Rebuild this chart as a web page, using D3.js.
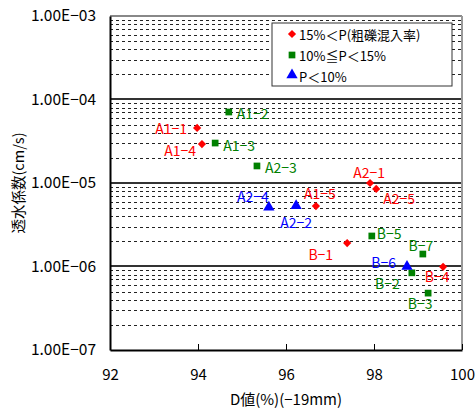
<!DOCTYPE html>
<html>
<head>
<meta charset="utf-8">
<script src="https://cdn.jsdelivr.net/npm/d3@7"></script>
<style>
  body { margin: 0; background: #fff; }
  text { font-family: "Noto Sans CJK JP", "Noto Sans", sans-serif; }
</style>
</head>
<body>
<div id="chart"></div>
<script>
// --- data ---
var seriesNames = ["15%＜P(粗礫混入率)", "10%≦P＜15%", "P＜10%"];
var seriesColors = ["#ff0000", "#008000", "#0000ff"];

var redNames = ["A1−1", "A1−4", "A1−5", "A2−1", "A2−5", "B−1", "B−4"];
var redD     = [93.98, 94.09, 96.68, 97.91, 98.05, 97.39, 99.57];
var redK     = [4.56e-5, 2.93e-5, 5.3e-6, 1.0e-5, 8.5e-6, 1.91e-6, 9.9e-7];

var greenNames = ["A1−2", "A1−3", "A2−3", "B−5", "B−7", "B−2", "B−3"];
var greenD     = [94.70, 94.39, 95.34, 97.95, 99.11, 98.86, 99.23];
var greenK     = [7.08e-5, 3.01e-5, 1.6e-5, 2.32e-6, 1.41e-6, 8.4e-7, 4.8e-7];

var blueNames = ["A2−4", "A2−2", "B−6"];
var blueD     = [95.61, 96.23, 98.75];
var blueK     = [5.0e-6, 5.2e-6, 9.7e-7];

var xTicks = [92, 94, 96, 98, 100];
var yTicks = [1e-3, 1e-4, 1e-5, 1e-6, 1e-7];

// label placement (offset from marker, anchor)
var labelPos = {
  "A1−1": [-10, 0, "end"],  "A1−4": [-6, 6, "end"],   "A1−5": [4, -13, "middle"],
  "A2−1": [-1, -11, "middle"], "A2−5": [7, 9, "start"], "B−1": [-14, 11, "end"],
  "B−4": [-6, 9, "middle"],
  "A1−2": [8, 1, "start"],  "A1−3": [8, 2, "start"],  "A2−3": [8, 1, "start"],
  "B−5": [5, -3, "start"],  "B−7": [-2, -9, "middle"], "B−2": [-12, 10, "end"],
  "B−3": [-8, 10, "middle"],
  "A2−4": [0, -12, "end"],  "A2−2": [0, 15, "middle"], "B−6": [-11, -6, "end"]
};

var w = 475, h = 412;
var margin = {left: 110, right: 13, top: 16, bottom: 62};

var svg = d3.select("#chart").append("svg")
  .attr("width", w)
  .attr("height", h);

var x = d3.scaleLinear().domain([92, 100]).range([margin.left, w - margin.right]);
var y = d3.scaleLog().domain([1e-7, 1e-3]).range([h - margin.bottom, margin.top]);

// minor grid (dashed)
var minor = [];
for (var e = -7; e < -3; e++) {
  for (var m = 2; m <= 9; m++) minor.push(m * Math.pow(10, e));
}
svg.append("g").selectAll("line")
  .data(minor).enter().append("line")
  .attr("x1", x(92)).attr("x2", x(100))
  .attr("y1", function(d){ return Math.round(y(d)) + 0.5; })
  .attr("y2", function(d){ return Math.round(y(d)) + 0.5; })
  .attr("stroke", "#222")
  .attr("stroke-width", 1)
  .attr("stroke-dasharray", "3,3");

// major grid
svg.append("g").selectAll("line")
  .data(yTicks.slice(1, 4)).enter().append("line")
  .attr("x1", x(92)).attr("x2", x(100))
  .attr("y1", function(d){ return Math.round(y(d)); })
  .attr("y2", function(d){ return Math.round(y(d)); })
  .attr("stroke", "#333")
  .attr("stroke-width", 2);

// frame: top / right gray
svg.append("line")
  .attr("x1", x(92)).attr("x2", x(100))
  .attr("y1", y(1e-3)).attr("y2", y(1e-3))
  .attr("stroke", "#888").attr("stroke-width", 2);
svg.append("line")
  .attr("x1", x(100)).attr("x2", x(100))
  .attr("y1", y(1e-3)).attr("y2", y(1e-7))
  .attr("stroke", "#999").attr("stroke-width", 2);

// axes
var xAxis = d3.axisBottom(x).tickValues(xTicks).tickSize(0).tickFormat(d3.format("d"));
var gx = svg.append("g")
  .attr("transform", "translate(0," + y(1e-7) + ")")
  .call(xAxis);
gx.select(".domain").attr("stroke", "#000").attr("stroke-width", 2);
gx.selectAll("text").attr("font-size", 15).attr("y", 19).attr("dy", "0.71em").attr("fill", "#000");
// inward tick marks
gx.selectAll(".tick").append("line")
  .attr("y1", 0).attr("y2", -6)
  .attr("stroke", "#000").attr("stroke-width", 1);

var yAxis = d3.axisLeft(y).tickValues(yTicks).tickSize(0)
  .tickFormat(function(d){ return d.toExponential(2).toUpperCase().replace("E-", "E−0"); });
var gy = svg.append("g")
  .attr("transform", "translate(" + x(92) + ",0)")
  .call(yAxis);
gy.select(".domain").attr("stroke", "#000").attr("stroke-width", 2);
gy.selectAll("text").attr("font-size", 15.5).attr("x", -14).attr("fill", "#000");

// axis titles
svg.append("text")
  .attr("x", (x(92) + x(100)) / 2)
  .attr("y", 405)
  .attr("text-anchor", "middle")
  .attr("font-size", 15)
  .text("D値(%)(−19mm)");
svg.append("text")
  .attr("transform", "translate(17," + ((y(1e-3) + y(1e-7)) / 2) + ") rotate(-90)")
  .attr("text-anchor", "middle")
  .attr("dominant-baseline", "central")
  .attr("font-size", 14.5)
  .text("透水係数(cm/s)");

// markers: rotated square for diamond
var symbols = [d3.symbolSquare, d3.symbolSquare, d3.symbolTriangle];
var symSizes = [34, 45, 55];
var symRot = ["rotate(45)", "", "translate(0,-1)"];

function plotSeries(names, ds, ks, si) {
  var pts = names.map(function(n, i){ return {name: n, d: ds[i], k: ks[i]}; });
  var g = svg.append("g");
  g.selectAll("path")
    .data(pts).enter().append("path")
    .attr("d", d3.symbol().type(symbols[si]).size(symSizes[si]))
    .attr("transform", function(p){
      return "translate(" + x(p.d) + "," + y(p.k) + ")" + symRot[si];
    })
    .attr("fill", seriesColors[si]);
  g.selectAll("text")
    .data(pts).enter().append("text")
    .attr("x", function(p){ return x(p.d) + labelPos[p.name][0]; })
    .attr("y", function(p){ return y(p.k) + labelPos[p.name][1]; })
    .attr("text-anchor", function(p){ return labelPos[p.name][2]; })
    .attr("dominant-baseline", "central")
    .attr("font-size", 14)
    .attr("fill", seriesColors[si])
    .text(function(p){ return p.name; });
}
plotSeries(redNames, redD, redK, 0);
plotSeries(greenNames, greenD, greenK, 1);
plotSeries(blueNames, blueD, blueK, 2);

// legend
var lg = svg.append("g").attr("transform", "translate(272,23)");
lg.append("rect")
  .attr("width", 180).attr("height", 63)
  .attr("fill", "#fff").attr("stroke", "#333").attr("stroke-width", 1);
seriesNames.forEach(function(n, i){
  var row = lg.append("g").attr("transform", "translate(20," + (11 + i * 21) + ")");
  row.append("path")
    .attr("d", d3.symbol().type(symbols[i]).size(symSizes[i])())
    .attr("transform", symRot[i] || null)
    .attr("fill", seriesColors[i]);
  row.append("text")
    .attr("x", 7)
    .attr("dominant-baseline", "central")
    .attr("font-size", 13)
    .text(n);
});
</script>
</body>
</html>
